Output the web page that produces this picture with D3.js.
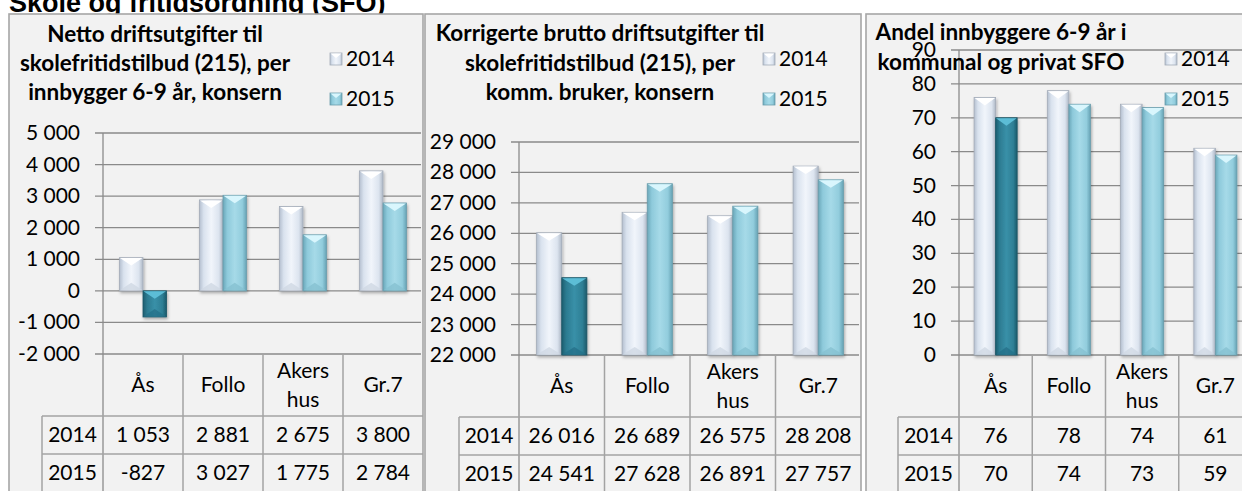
<!DOCTYPE html>
<html>
<head>
<meta charset="utf-8">
<script src="https://cdn.jsdelivr.net/npm/d3@7"></script>
<style>
body { margin: 0; background: #fff; }
svg { display: block; }
text { font-family: Lato, 'Open Sans', sans-serif; fill: #000; }
</style>
</head>
<body>
<svg></svg>
<script>
const width = 1242;
const height = 491;

// data
const categories = ['Ås', 'Follo', 'Akers hus', 'Gr.7'];
const years = ['2014', '2015'];
const highlightCategory = 'Ås';

const netto2014 = [1053, 2881, 2675, 3800];
const netto2015 = [-827, 3027, 1775, 2784];
const brutto2014 = [26016, 26689, 26575, 28208];
const brutto2015 = [24541, 27628, 26891, 27757];
const andel2014 = [76, 78, 74, 61];
const andel2015 = [70, 74, 73, 59];

const nettoTicks = [-2000, -1000, 0, 1000, 2000, 3000, 4000, 5000];
const bruttoTicks = [22000, 23000, 24000, 25000, 26000, 27000, 28000, 29000];
const andelTicks = [0, 10, 20, 30, 40, 50, 60, 70, 80, 90];

const mainTitle = 'Skole og fritidsordning (SFO)';
const nettoTitle = ['Netto driftsutgifter til', 'skolefritidstilbud (215), per', 'innbygger 6-9 år, konsern'];
const bruttoTitle = ['Korrigerte brutto driftsutgifter til', 'skolefritidstilbud (215), per', 'komm. bruker, konsern'];
const andelTitle = ['Andel innbyggere 6-9 år i', 'kommunal og privat SFO'];

// layout
const panels = [
    { title: nettoTitle, s2014: netto2014, s2015: netto2015, ticks: nettoTicks,
      x0: 9, x1: 423, left: 103, right: 423, top: 133, bottom: 354,
      titleX: 155, titleY: [42, 71, 100], legendX: 330, tableLeft: 42 },
    { title: bruttoTitle, s2014: brutto2014, s2015: brutto2015, ticks: bruttoTicks,
      x0: 425, x1: 861, left: 519, right: 861, top: 142, bottom: 355,
      titleX: 600, titleY: [41, 71, 100], legendX: 763, tableLeft: 459 },
    { title: andelTitle, s2014: andel2014, s2015: andel2015, ticks: andelTicks,
      x0: 866, x1: 1260, left: 959, right: 1252, top: 50, bottom: 355,
      titleX: 1001, titleY: [40, 70], legendX: 1165, tableLeft: 898 }
];

const headerH = 62;
const rowH = 38;
const fontSize = 21;
const titleSize = 22.5;
const gridColor = '#8a8a8a';
const tableColor = '#a3a3a3';

const locale = d3.formatLocale({ decimal: ',', thousands: ' ', grouping: [3], currency: ['', ''], minus: '-' });
const fmt = locale.format(',d');

const svg = d3.select('svg')
    .attr('width', width)
    .attr('height', height);
const defs = svg.append('defs');

const barStyles = {
    '2014': { id: 'g2014', stops: ['#b4bfcf', '#d9e2ee', '#f1f5fb', '#dce4ef', '#aeb8c6'], top: '#ffffff', bottom: '#d0d8e4', stroke: '#a4acb8' },
    '2015': { id: 'g2015', stops: ['#6aa7b9', '#8ecadb', '#a6dae8', '#92cddd', '#66a2b4'], top: '#d9f6fd', bottom: '#86c1d1', stroke: '#6a9dac' },
    'hi':   { id: 'gHi',   stops: ['#1c5d6f', '#2c7b91', '#3990a8', '#2e7f95', '#1b596a'], top: '#5cbdd6', bottom: '#25718a', stroke: '#1a5666' }
};

Object.values(barStyles).forEach(s => {
    const grad = defs.append('linearGradient').attr('id', s.id)
        .attr('x1', '0%').attr('x2', '100%').attr('y1', '0%').attr('y2', '0%');
    const offs = [0, 0.18, 0.5, 0.82, 1];
    s.stops.forEach((c, i) => grad.append('stop').attr('offset', offs[i]).attr('stop-color', c));
});

const shadow = defs.append('filter').attr('id', 'shadow')
    .attr('x', '-30%').attr('y', '-10%').attr('width', '160%').attr('height', '130%');
shadow.append('feDropShadow').attr('dx', 1).attr('dy', 2).attr('stdDeviation', 1.5)
    .attr('flood-color', '#000').attr('flood-opacity', 0.3);

// main title
svg.append('text')
    .attr('x', 9)
    .attr('y', 12)
    .style('font-family', "'Liberation Sans', Arial, sans-serif")
    .style('font-weight', 'bold')
    .style('font-size', '27px')
    .text(mainTitle);

function drawBar(g, x, y, w, h, style) {
    const d = Math.min(8, h / 2);
    const bar = g.append('g').attr('filter', 'url(#shadow)');
    bar.append('rect')
        .attr('x', x).attr('y', y).attr('width', w).attr('height', h)
        .attr('fill', `url(#${style.id})`)
        .attr('stroke', style.stroke)
        .attr('stroke-width', 0.8);
    bar.append('polygon')
        .attr('points', [[x + 0.5, y + 0.5], [x + w - 0.5, y + 0.5], [x + w / 2, y + d]].join(' '))
        .attr('fill', style.top);
    bar.append('polygon')
        .attr('points', [[x + 0.5, y + h - 0.5], [x + w - 0.5, y + h - 0.5], [x + w / 2, y + h - d]].join(' '))
        .attr('fill', style.bottom)
        .attr('opacity', 0.8);
}

function drawMarker(g, x, y, style) {
    const s = 12;
    g.append('rect')
        .attr('x', x).attr('y', y).attr('width', s).attr('height', s)
        .attr('fill', `url(#${style.id})`)
        .attr('stroke', style.stroke)
        .attr('stroke-width', 0.8);
    g.append('polygon')
        .attr('points', [[x + 0.5, y + 0.5], [x + s - 0.5, y + 0.5], [x + s / 2, y + 5]].join(' '))
        .attr('fill', style.top);
}

panels.forEach(p => {
    const g = svg.append('g');
    const tableBottom = p.bottom + headerH + rowH * 2;

    g.append('rect')
        .attr('x', p.x0).attr('y', 14)
        .attr('width', p.x1 - p.x0).attr('height', height)
        .attr('fill', '#f2f2f2')
        .attr('stroke', '#a6a6a6')
        .attr('stroke-width', 1.6);

    const y = d3.scaleLinear()
        .domain([p.ticks[0], p.ticks[p.ticks.length - 1]])
        .range([p.bottom, p.top]);

    const x = d3.scaleBand()
        .domain(categories)
        .range([p.left, p.right]);

    const xs = d3.scaleBand()
        .domain(years)
        .range([0, x.bandwidth()])
        .paddingOuter(0.7);

    // gridlines and y labels
    g.selectAll('line.grid').data(p.ticks)
        .enter().append('line')
        .attr('class', 'grid')
        .attr('x1', p.left - 8)
        .attr('x2', Math.min(p.right, p.x1 - 2))
        .attr('y1', d => y(d))
        .attr('y2', d => y(d))
        .attr('stroke', gridColor)
        .attr('stroke-width', 1.3);

    g.selectAll('text.ylab').data(p.ticks)
        .enter().append('text')
        .attr('class', 'ylab')
        .attr('x', p.left - 23)
        .attr('y', d => y(d) + 7)
        .attr('text-anchor', 'end')
        .style('font-size', fontSize + 'px')
        .text(d => fmt(d));

    // bars
    const zero = Math.max(0, p.ticks[0]);
    categories.forEach((c, i) => {
        years.forEach(yr => {
            const v = yr === '2014' ? p.s2014[i] : p.s2015[i];
            const style = yr === '2015' && c === highlightCategory ? barStyles.hi : barStyles[yr];
            const bx = x(c) + xs(yr);
            const y0 = y(Math.max(v, zero));
            const y1 = y(Math.min(v, zero));
            drawBar(g, bx, y0, xs.bandwidth(), y1 - y0, style);
        });
    });

    // axis line
    g.append('line')
        .attr('x1', p.left).attr('x2', p.left)
        .attr('y1', p.top).attr('y2', tableBottom)
        .attr('stroke', gridColor)
        .attr('stroke-width', 1.3);

    // data table
    const tRight = Math.min(p.right, p.x1);
    categories.forEach((c, i) => {
        if (i > 0) {
            g.append('line')
                .attr('x1', x(c)).attr('x2', x(c))
                .attr('y1', p.bottom).attr('y2', tableBottom)
                .attr('stroke', tableColor).attr('stroke-width', 1.5);
        }
    });
    g.append('line')
        .attr('x1', p.tableLeft).attr('x2', p.tableLeft)
        .attr('y1', p.bottom + headerH).attr('y2', tableBottom)
        .attr('stroke', tableColor).attr('stroke-width', 1.5);
    [p.bottom + headerH, p.bottom + headerH + rowH].forEach(ly => {
        g.append('line')
            .attr('x1', p.tableLeft).attr('x2', tRight)
            .attr('y1', ly).attr('y2', ly)
            .attr('stroke', tableColor).attr('stroke-width', 1.5);
    });

    categories.forEach(c => {
        const lines = c.split(' ');
        const cy = p.bottom + headerH / 2;
        lines.forEach((t, k) => {
            g.append('text')
                .attr('x', x(c) + x.bandwidth() / 2)
                .attr('y', cy + 7 + (k - (lines.length - 1) / 2) * 29)
                .attr('text-anchor', 'middle')
                .style('font-size', fontSize + 'px')
                .text(t);
        });
    });

    years.forEach((yr, r) => {
        const cy = p.bottom + headerH + rowH * r + rowH / 2 + 7;
        const vals = yr === '2014' ? p.s2014 : p.s2015;
        g.append('text')
            .attr('x', (p.tableLeft + p.left) / 2)
            .attr('y', cy)
            .attr('text-anchor', 'middle')
            .style('font-size', fontSize + 'px')
            .text(yr);
        g.selectAll(null).data(vals)
            .enter().append('text')
            .attr('x', (d, i) => x(categories[i]) + x.bandwidth() / 2)
            .attr('y', cy)
            .attr('text-anchor', 'middle')
            .style('font-size', fontSize + 'px')
            .text(d => fmt(d));
    });

    // title
    p.title.forEach((t, k) => {
        g.append('text')
            .attr('x', p.titleX)
            .attr('y', p.titleY[k])
            .attr('text-anchor', 'middle')
            .style('font-size', titleSize + 'px')
            .style('font-weight', 'bold')
            .text(t);
    });

    // legend
    years.forEach((yr, k) => {
        const ly = 53 + k * 40;
        drawMarker(g, p.legendX, ly, barStyles[yr]);
        g.append('text')
            .attr('x', p.legendX + 16)
            .attr('y', ly + 13)
            .style('font-size', fontSize + 'px')
            .text(yr);
    });
});
</script>
</body>
</html>
